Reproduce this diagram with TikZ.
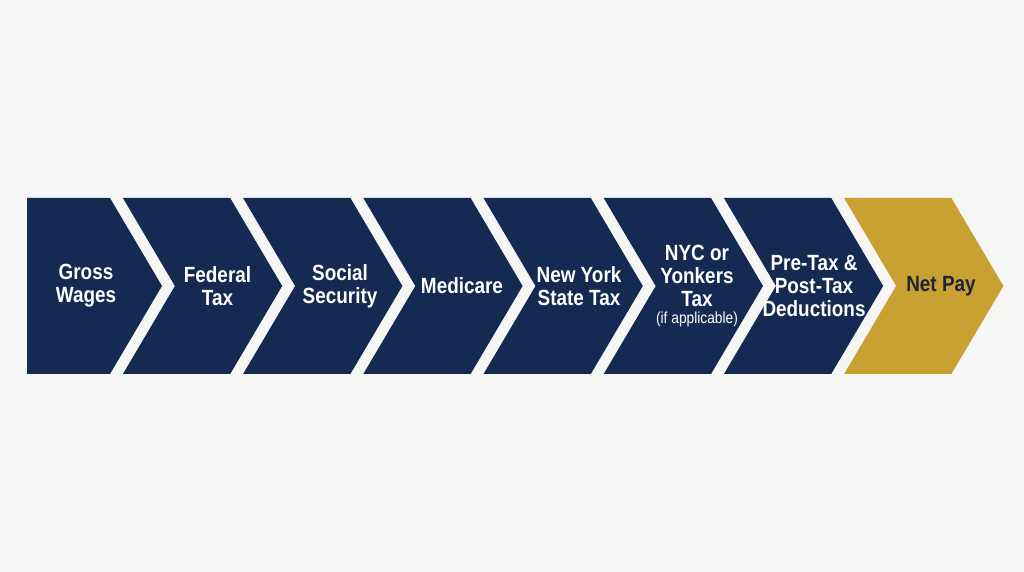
\documentclass[tikz,border=0pt]{standalone}
\usepackage{fontspec}
\setmainfont{Liberation Sans}[FakeStretch=0.86]
\usepackage{tikz}
\definecolor{bgGrey}{HTML}{F6F6F4}
\definecolor{navyStep}{HTML}{142A52}
\definecolor{goldStep}{HTML}{C9A133}
\definecolor{darkText}{HTML}{1C2333}
\tikzset{
	chevron/.style={fill=navyStep, draw=none},
	final chevron/.style={fill=goldStep, draw=none},
	step label/.style={text=white, font=\bfseries\fontsize{22}{23}\selectfont, align=center, inner sep=0pt},
	final label/.style={step label, text=darkText}
}

\begin{document}
\begin{tikzpicture}[x=1pt, y=1pt]
			\fill[bgGrey] (0,0) rectangle (1024,572);
			\useasboundingbox (0,0) rectangle (1024,572);
			\def\dep{52}
			% one chevron per step, gold one at the end
			\foreach\i/\xc/\txt in {
					0/86/{Gross\\Wages},
					1/217.5/{Federal\\Tax},
					2/340/{Social\\Security},
					3/462/{Medicare},
					4/579/{New York\\State Tax},
					5/697/{NYC or\\Yonkers\\Tax\\[-6pt]{\mdseries\fontsize{16}{16}\selectfont(if applicable)}},
					6/814/{Pre-Tax \&\\Post-Tax\\Deductions},
					7/941/{Net Pay}}{
				\pgfmathsetmacro\xl{2.7 + 120.2*\i}
				\pgfmathsetmacro\xr{110 + 120.2*\i}
				\ifnum\i=0
					\def\xl{27}
					\def\notch{27}
				\else
					\pgfmathsetmacro\notch{\xl + \dep}
				\fi
				\ifnum\i=7
					\def\shapestyle{final chevron}
					\def\labelstyle{final label}
				\else
					\def\shapestyle{chevron}
					\def\labelstyle{step label}
				\fi
				\path[\shapestyle] (\xl,374) -- (\xr,374) -- (\xr+\dep,286)
					-- (\xr,198) -- (\xl,198) -- (\notch,286) -- cycle;
				\node [\labelstyle] (step\i) at (\xc,286) {\txt};
			}
		\end{tikzpicture}
\end{document}
